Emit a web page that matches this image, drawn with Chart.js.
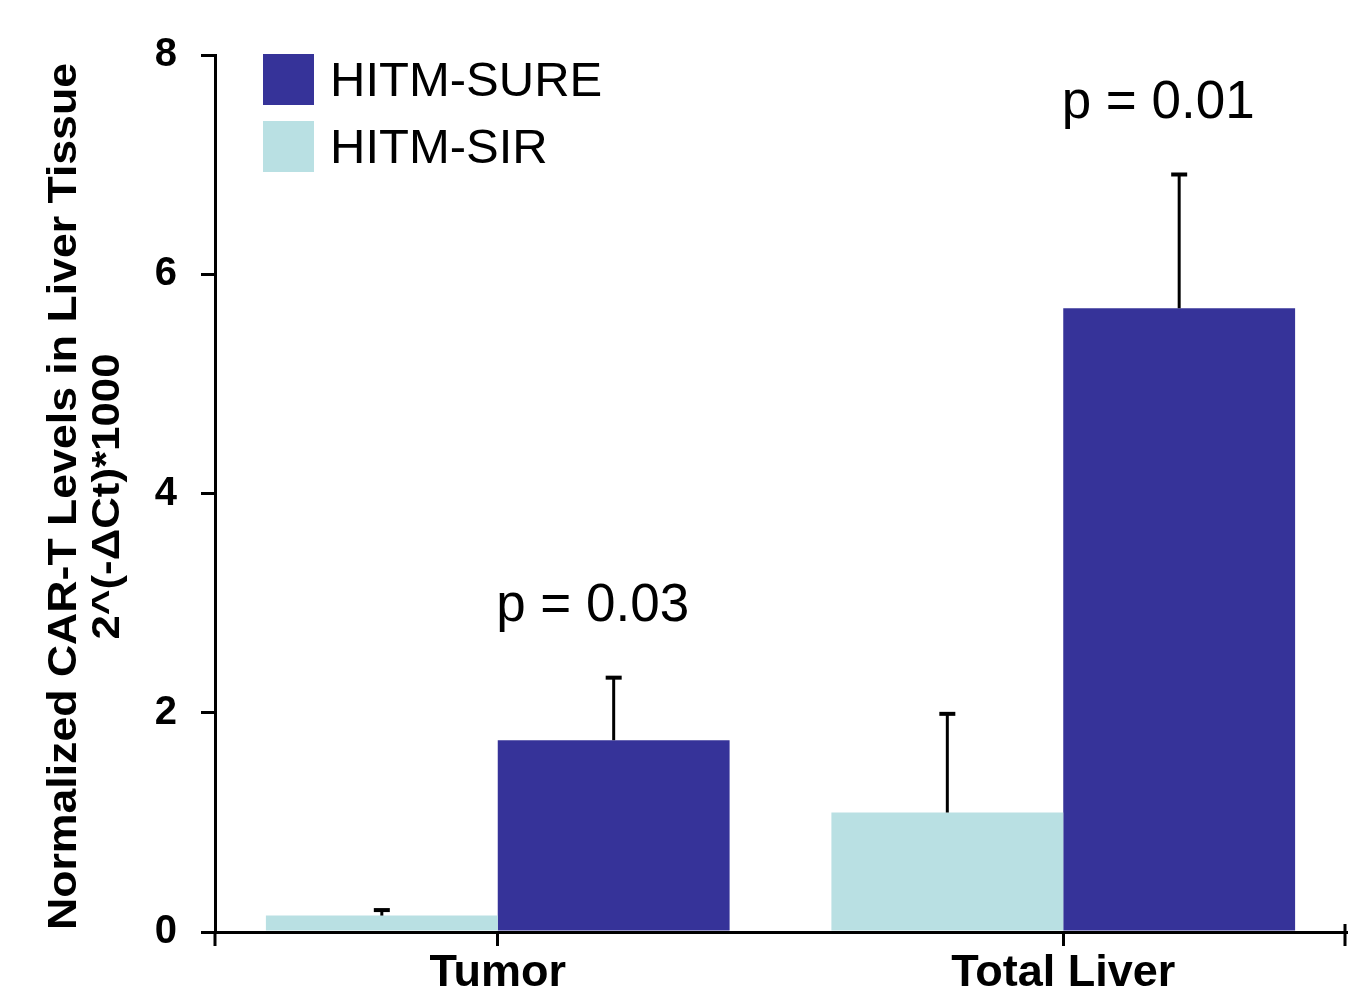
<!DOCTYPE html>
<html>
<head>
<meta charset="utf-8">
<script src="https://cdn.jsdelivr.net/npm/chart.js@4/dist/chart.umd.min.js"></script>
<style>
  body { margin: 0; background: #fff; }
  canvas { display: block; }
</style>
</head>
<body>
<canvas id="myChart" width="1348" height="991"></canvas>
<script>
// values
const categories = ['Tumor', 'Total Liver'];
const sirValues = [0.15, 1.09];
const sirErrors = [0.05, 0.90];
const sureValues = [1.75, 5.69];
const sureErrors = [0.57, 1.22];
const pLabels = ['p = 0.03', 'p = 0.01'];
const yTicks = [0, 2, 4, 6, 8];
const yTitle = ['Normalized CAR-T Levels in Liver Tissue', '2^(-\u0394Ct)*1000'];

const font = "'Liberation Sans', Arial, sans-serif";

// error bars, only the upper half with a small cap
const errorBars = {
    id: 'errorBars',
    afterDatasetsDraw(chart) {
        const ctx = chart.ctx;
        const y = chart.scales.y;
        chart.data.datasets.forEach((ds, di) => {
            const meta = chart.getDatasetMeta(di);
            meta.data.forEach((bar, i) => {
                const top = y.getPixelForValue(ds.data[i] + ds.errors[i]);
                ctx.save();
                ctx.strokeStyle = '#000';
                ctx.lineWidth = 3;
                ctx.beginPath();
                ctx.moveTo(bar.x, bar.y);
                ctx.lineTo(bar.x, top);
                ctx.stroke();
                ctx.lineWidth = 4;
                ctx.beginPath();
                ctx.moveTo(bar.x - 8, top);
                ctx.lineTo(bar.x + 8, top);
                ctx.stroke();
                ctx.restore();
            });
        });
    }
};

// p values above the HITM-SURE bars
const pValues = {
    id: 'pValues',
    afterDatasetsDraw(chart) {
        const ctx = chart.ctx;
        const y = chart.scales.y;
        const ds = chart.data.datasets[1];
        const meta = chart.getDatasetMeta(1);
        ctx.save();
        ctx.fillStyle = '#000';
        ctx.font = '53px ' + font;
        ctx.textAlign = 'center';
        ctx.textBaseline = 'middle';
        meta.data.forEach((bar, i) => {
            const top = y.getPixelForValue(ds.data[i] + ds.errors[i]);
            ctx.fillText(pLabels[i], bar.x - 21, top - 71);
        });
        ctx.restore();
    }
};

// legend in the top left corner, HITM-SURE first
const boxLegend = {
    id: 'boxLegend',
    afterDraw(chart) {
        const ctx = chart.ctx;
        const order = [1, 0];
        ctx.save();
        ctx.font = '49px ' + font;
        ctx.textBaseline = 'middle';
        order.forEach((di, k) => {
            const ds = chart.data.datasets[di];
            const top = 54 + k * 67;
            ctx.fillStyle = ds.backgroundColor;
            ctx.fillRect(263, top, 51, 51);
            ctx.fillStyle = '#000';
            ctx.fillText(ds.label, 330, top + 28);
        });
        ctx.restore();
    }
};

// rotated two line axis title, stretched along the text like the original
const axisTitle = {
    id: 'axisTitle',
    afterDraw(chart) {
        const ctx = chart.ctx;
        const a = chart.chartArea;
        const lines = [
            { text: yTitle[0], x: 76, size: 41, len: 867 },
            { text: yTitle[1], x: 119, size: 38, len: 286 }
        ];
        const cy = (a.top + a.bottom) / 2 + 3;
        ctx.save();
        ctx.fillStyle = '#000';
        ctx.textAlign = 'center';
        ctx.textBaseline = 'alphabetic';
        lines.forEach(l => {
            ctx.save();
            ctx.font = 'bold ' + l.size + 'px ' + font;
            const w = ctx.measureText(l.text).width;
            ctx.translate(l.x, cy);
            ctx.rotate(-Math.PI / 2);
            ctx.scale(l.len / w, 1);
            ctx.fillText(l.text, 0, 0);
            ctx.restore();
        });
        ctx.restore();
    }
};

// edge ticks of the x axis
const edgeTicks = {
    id: 'edgeTicks',
    afterDraw(chart) {
        const ctx = chart.ctx;
        const a = chart.chartArea;
        ctx.save();
        ctx.strokeStyle = '#000';
        ctx.lineWidth = 3;
        ctx.beginPath();
        ctx.moveTo(a.left, a.bottom);
        ctx.lineTo(a.left, a.bottom + 14);
        ctx.moveTo(a.right - 1, a.bottom - 8);
        ctx.lineTo(a.right - 1, a.bottom + 14);
        ctx.stroke();
        ctx.restore();
    }
};

var ctx = document.getElementById('myChart').getContext('2d');
var myChart = new Chart(ctx, {
    type: 'bar',
    data: {
        labels: categories,
        datasets: [{
            label: 'HITM-SIR',
            data: sirValues,
            errors: sirErrors,
            backgroundColor: '#b9e0e3'
        }, {
            label: 'HITM-SURE',
            data: sureValues,
            errors: sureErrors,
            backgroundColor: '#363399'
        }]
    },
    options: {
        responsive: false,
        animation: false,
        devicePixelRatio: 1,
        layout: { padding: { top: 55, right: 2, left: 0, bottom: 0 } },
        datasets: {
            bar: { categoryPercentage: 0.82, barPercentage: 1.0 }
        },
        plugins: {
            legend: { display: false },
            tooltip: { enabled: false }
        },
        scales: {
            x: {
                offset: true,
                grid: { offset: false, drawOnChartArea: false, tickLength: 14, lineWidth: 3, color: '#000' },
                border: { display: true, width: 3, color: '#000' },
                ticks: { color: '#000', font: { family: font, size: 45, weight: 'bold' }, padding: 1 },
                afterFit(scale) { scale.height = 59; }
            },
            y: {
                min: 0,
                max: 8,
                afterBuildTicks(scale) { scale.ticks = yTicks.map(v => ({ value: v })); },
                grid: { drawOnChartArea: false, tickLength: 14, lineWidth: 3, color: '#000' },
                border: { display: true, width: 3, color: '#000' },
                ticks: { color: '#000', font: { family: font, size: 40, weight: 'bold' }, padding: 24 },
                title: { display: false },
                afterFit(scale) { scale.width = 215; }
            }
        }
    },
    plugins: [errorBars, pValues, boxLegend, axisTitle, edgeTicks]
});
</script>
</body>
</html>
